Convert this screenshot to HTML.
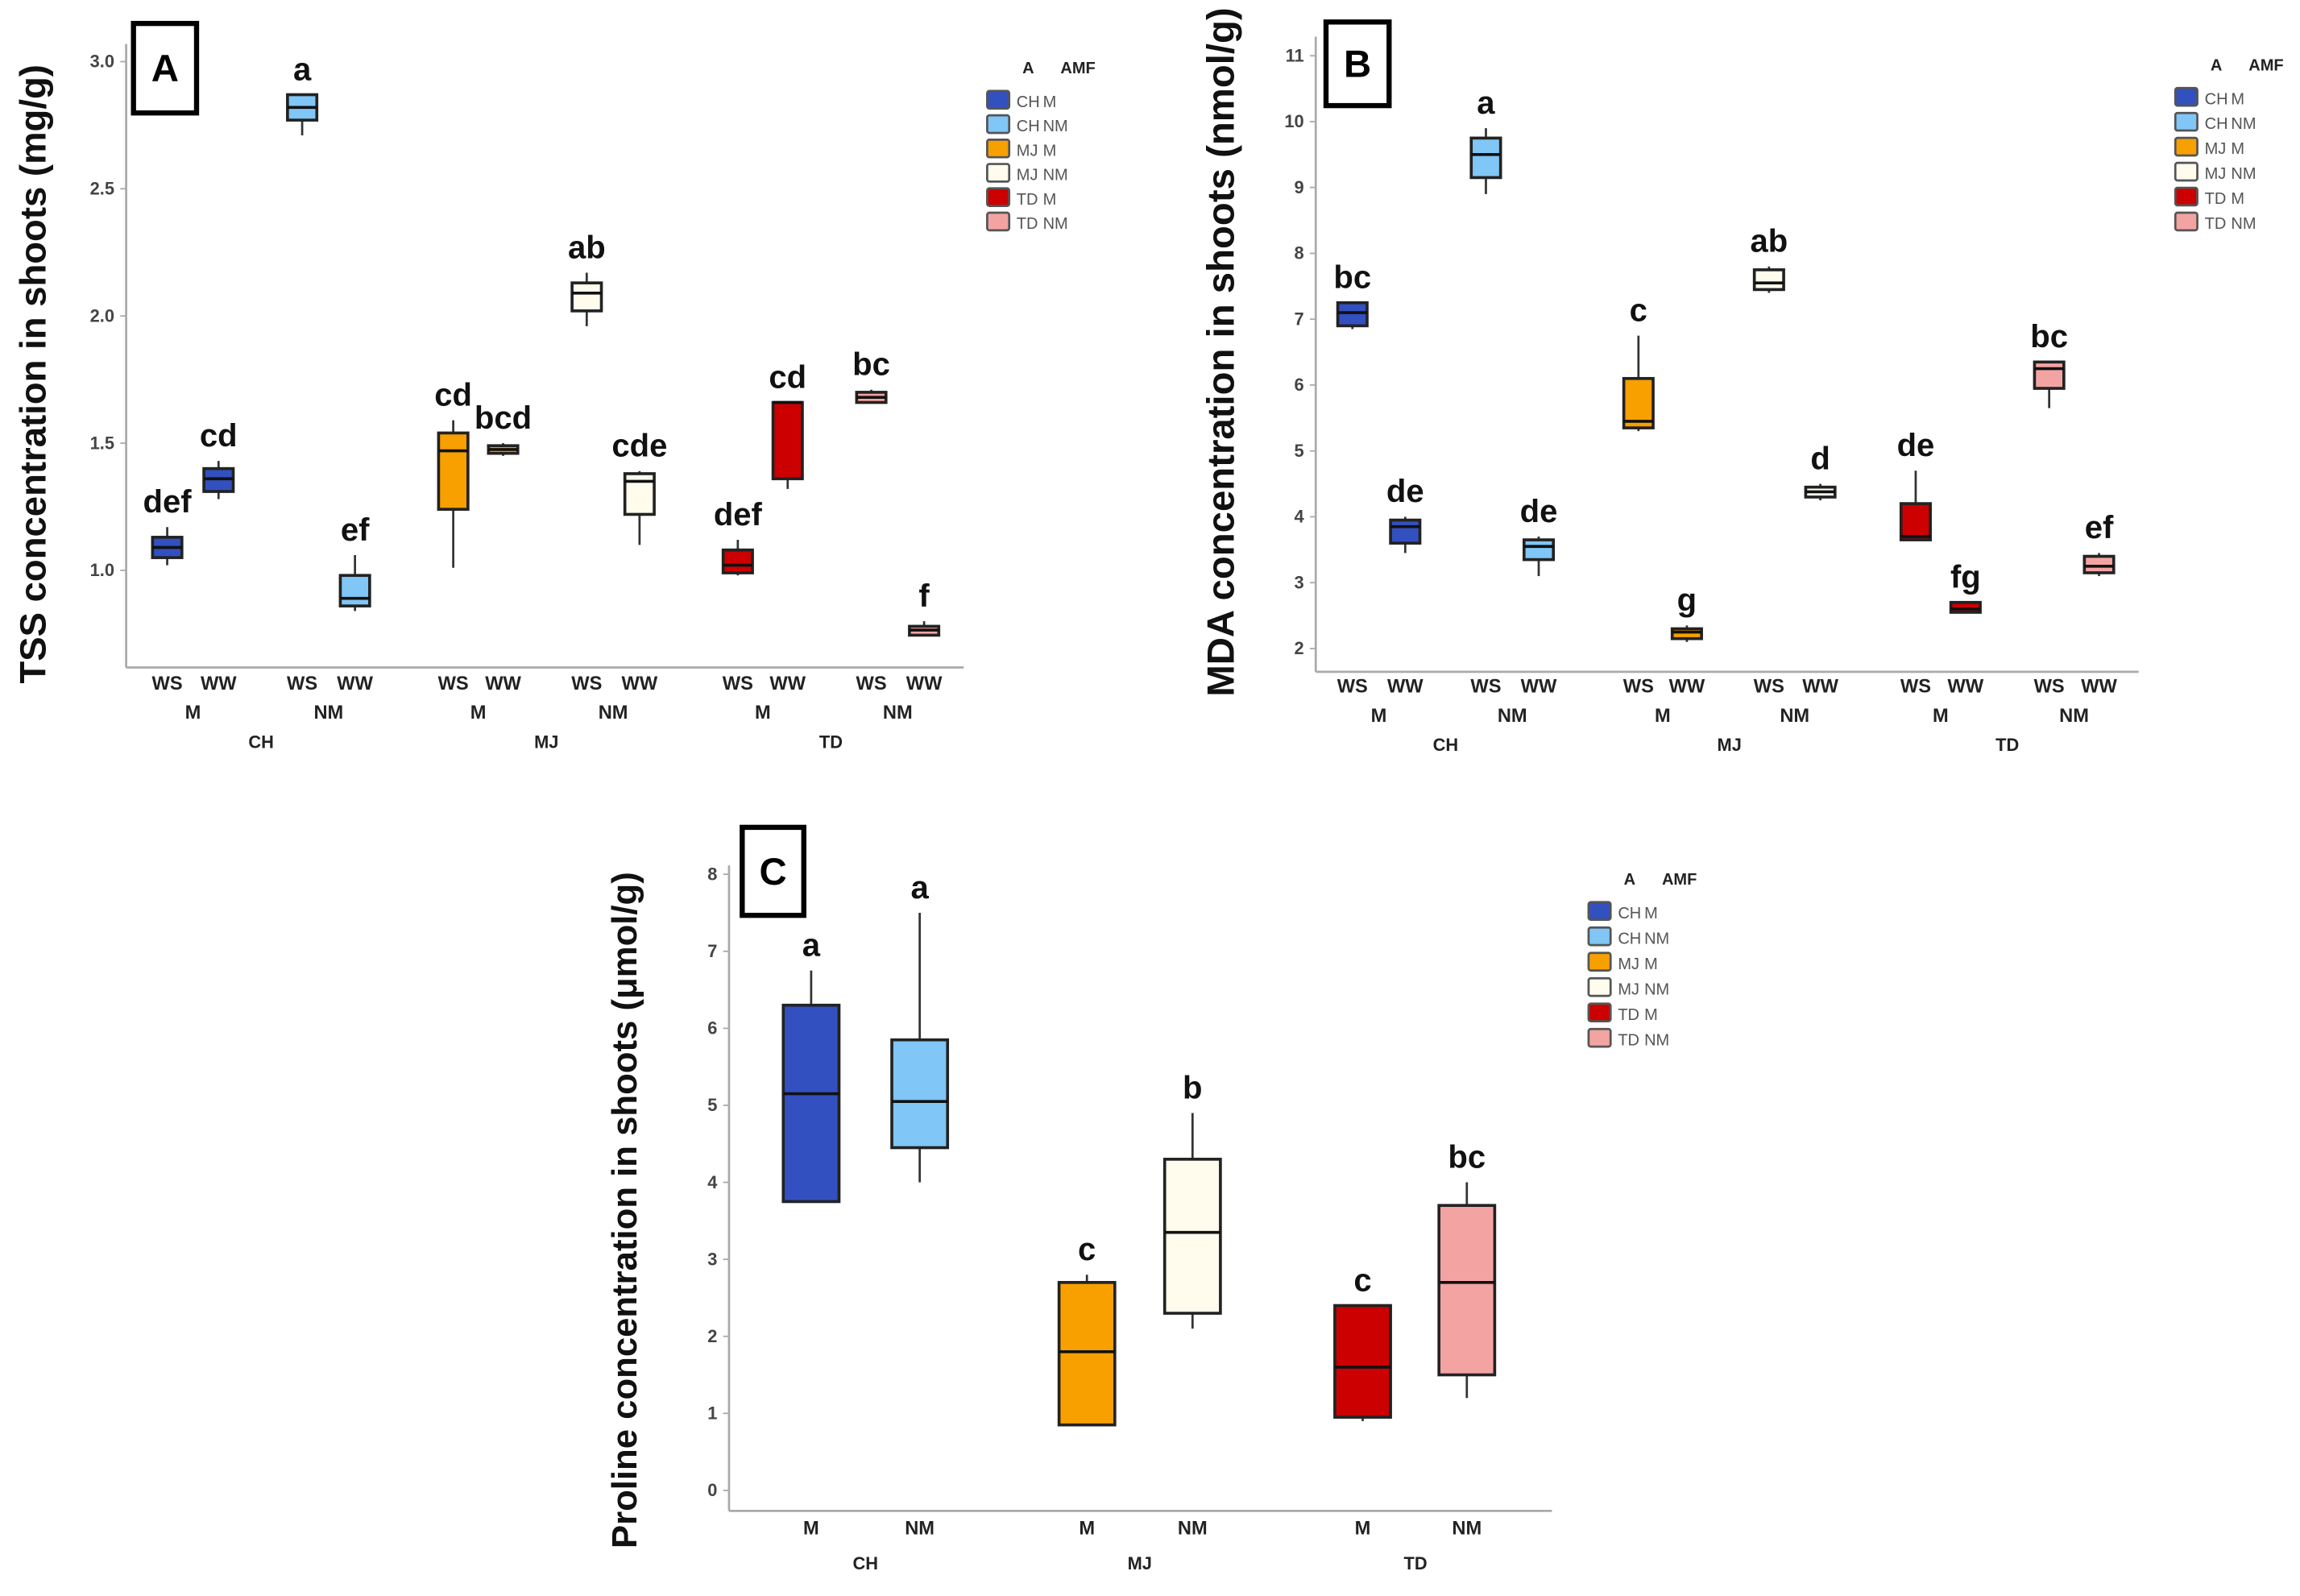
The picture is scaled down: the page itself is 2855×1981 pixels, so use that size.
<!DOCTYPE html>
<html><head><meta charset="utf-8">
<style>
html,body{margin:0;padding:0;background:#fff;}
svg{display:block;}
text{font-family:"Liberation Sans",sans-serif;}
</style></head>
<body>
<svg id="fig" xmlns="http://www.w3.org/2000/svg" width="2855" height="1981" viewBox="0 0 1568 1088" preserveAspectRatio="none">
<rect x="0" y="0" width="1568" height="1088" fill="#fff"/>
</svg>
<script>
// ---- Panel A data (TSS, mg/g) ----
const aGroups = ["CH M WS","CH M WW","CH NM WS","CH NM WW","MJ M WS","MJ M WW","MJ NM WS","MJ NM WW","TD M WS","TD M WW","TD NM WS","TD NM WW"];
const aLo  = [1.02,1.28,2.71,0.84,1.01,1.45,1.96,1.10,0.98,1.32,1.66,0.74];
const aQ1  = [1.05,1.31,2.77,0.86,1.24,1.46,2.02,1.22,0.99,1.36,1.66,0.745];
const aMed = [1.09,1.36,2.82,0.89,1.47,1.475,2.09,1.35,1.02,1.66,1.68,0.765];
const aQ3  = [1.13,1.40,2.87,0.98,1.54,1.49,2.13,1.38,1.08,1.66,1.70,0.78];
const aHi  = [1.17,1.43,2.87,1.06,1.59,1.50,2.17,1.39,1.12,1.66,1.71,0.80];
const aLetters = ["def","cd","a","ef","cd","bcd","ab","cde","def","cd","bc","f"];
const aTicks = [1.0,1.5,2.0,2.5,3.0];
const aTickLabels = ["1.0","1.5","2.0","2.5","3.0"];

// ---- Panel B data (MDA, nmol/g) ----
const bGroups = aGroups;
const bLo  = [6.85,3.45,8.9,3.1,5.3,2.1,7.4,4.25,3.65,2.55,5.65,3.1];
const bQ1  = [6.9,3.6,9.15,3.35,5.35,2.15,7.45,4.3,3.65,2.55,5.95,3.15];
const bMed = [7.1,3.85,9.5,3.55,5.45,2.25,7.55,4.38,3.7,2.6,6.25,3.25];
const bQ3  = [7.25,3.95,9.75,3.65,6.1,2.3,7.75,4.45,4.2,2.7,6.35,3.4];
const bHi  = [7.25,4.0,9.9,3.7,6.75,2.35,7.8,4.5,4.7,2.7,6.35,3.45];
const bLetters = ["bc","de","a","de","c","g","ab","d","de","fg","bc","ef"];
const bTicks = [2,3,4,5,6,7,8,9,10,11];
const bTickLabels = ["2","3","4","5","6","7","8","9","10","11"];

// ---- Panel C data (Proline, umol/g) ----
const cGroups = ["CH M","CH NM","MJ M","MJ NM","TD M","TD NM"];
const cLo  = [3.75,4.0,0.85,2.1,0.9,1.2];
const cQ1  = [3.75,4.45,0.85,2.3,0.95,1.5];
const cMed = [5.15,5.05,1.8,3.35,1.6,2.7];
const cQ3  = [6.3,5.85,2.7,4.3,2.4,3.7];
const cHi  = [6.75,7.5,2.8,4.9,2.4,4.0];
const cLetters = ["a","a","c","b","c","bc"];
const cTicks = [0,1,2,3,4,5,6,7,8];
const cTickLabels = ["0","1","2","3","4","5","6","7","8"];

const colors12 = ["#3350c0","#3350c0","#80c6f6","#80c6f6","#f7a000","#f7a000","#fffcee","#fffcee","#cc0000","#cc0000","#f4a3a3","#f4a3a3"];
const colors6 = ["#3350c0","#80c6f6","#f7a000","#fffcee","#cc0000","#f4a3a3"];
const legendLabels = [["CH","M"],["CH","NM"],["MJ","M"],["MJ","NM"],["TD","M"],["TD","NM"]];

const NS="http://www.w3.org/2000/svg";
const svg=document.getElementById('fig');
function mk(tag,attrs,parent,txt){const e=document.createElementNS(NS,tag);for(const k in attrs)e.setAttribute(k,attrs[k]);if(txt!==undefined)e.textContent=txt;(parent||svg).appendChild(e);return e;}

function panel(p){
  const g=mk('g',{});
  
  
  const y=v=>p.y0-(v-p.v0)*p.ppu;
  const ax=mk('line',{x1:p.axX,y1:p.axTop,x2:p.axX,y2:p.axBot,stroke:'#aaa','stroke-width':1.5},g);
  
  
  const bx=mk('line',{x1:p.axX,y1:p.axBot,x2:p.axRight,y2:p.axBot,stroke:'#aaa','stroke-width':1.5},g);
  
  
  p.ticks.forEach((t,i)=>{
    mk('line',{x1:p.axX-4,y1:y(t),x2:p.axX,y2:y(t),stroke:'#aaa'},g);
    const tl=mk('text',{x:p.axX-8,y:y(t)+4,'text-anchor':'end','font-size':12,'font-weight':'bold',fill:'#444'},g,p.tickLabels[i]);
    
    
  });
  const tt=mk('text',{x:0,y:0,transform:`translate(${p.titleX},${p.titleY}) rotate(-90)`,'text-anchor':'middle','font-size':p.titleSize,'font-weight':'bold',fill:'#111'},g,p.title);
  
  
  const lb=mk('rect',{x:p.lab[0],y:p.lab[1],width:p.lab[2],height:p.lab[3],fill:'#fff',stroke:'#000','stroke-width':3.5},g);
  
  
  const lt=mk('text',{x:p.lab[0]+p.lab[2]/2,y:p.lab[1]+p.lab[3]/2+9,'text-anchor':'middle','font-size':26,'font-weight':'bold'},g,p.labText);
  
  
  p.groups.forEach((name,i)=>{
    const cx=p.xs[i], w=p.bw;
    const bg=mk('g',{},g);
    
    
    mk('line',{x1:cx,y1:y(p.hi[i]),x2:cx,y2:y(p.lo[i]),stroke:'#333','stroke-width':1.5},bg);
    const top=y(p.q3[i]),bot=y(p.q1[i]);
    mk('rect',{x:cx-w/2,y:top,width:w,height:Math.max(bot-top,2),fill:p.colors[i],stroke:'#222','stroke-width':2},bg);
    mk('line',{x1:cx-w/2,y1:y(p.med[i]),x2:cx+w/2,y2:y(p.med[i]),stroke:'#111','stroke-width':2},bg);
    const lt2=mk('text',{x:cx,y:y(p.hi[i])-10,'text-anchor':'middle','font-size':22,'font-weight':'bold',fill:'#111'},g,p.letters[i]);
    
    
  });
  p.xlabels.forEach(l=>{
    const t=mk('text',{x:l[0],y:l[1],'text-anchor':'middle','font-size':l[3]||13,'font-weight':'bold',fill:'#222'},g,l[2]);
    
    
  });
  const lg=mk('g',{},g);
  
  
  mk('text',{x:p.leg[0]+24,y:p.leg[1],'font-size':11,'font-weight':'bold',fill:'#222'},lg,'A');
  mk('text',{x:p.leg[0]+50,y:p.leg[1],'font-size':11,'font-weight':'bold',fill:'#222'},lg,'AMF');
  legendLabels.forEach((ll,i)=>{
    const yy=p.leg[1]+20+i*p.leg[2];
    const e=mk('g',{},lg);
    
    
    mk('rect',{x:p.leg[0],y:yy-8,width:15,height:12,fill:colors6[i],stroke:'#555','stroke-width':1.5,rx:1.5},e);
    mk('text',{x:p.leg[0]+20,y:yy+3,'font-size':11,fill:'#555'},e,ll[0]);
    mk('text',{x:p.leg[0]+38,y:yy+3,'font-size':11,fill:'#555'},e,ll[1]);
  });
}

function xlabs12(xs,y1,y2,y3){
  const r=[];
  xs.forEach((x,i)=>r.push([x,y1,i%2?'WW':'WS']));
  for(let k=0;k<6;k++)r.push([(xs[2*k]+xs[2*k+1])/2,y2,k%2?'NM':'M']);
  for(let k=0;k<3;k++)r.push([(xs[4*k]+xs[4*k+3])/2,y3,['CH','MJ','TD'][k],12]);
  return r;
}

const aXs=[114,149,206,242,309,343,400,436,503,537,594,630];
panel({id:'panel-a',groups:aGroups,lo:aLo,q1:aQ1,med:aMed,q3:aQ3,hi:aHi,letters:aLetters,ticks:aTicks,tickLabels:aTickLabels,
  v0:3.0,y0:42,ppu:173.4,axX:86,axTop:30,axBot:455,axRight:657,xs:aXs,bw:20,colors:colors12,
  title:'TSS concentration in shoots (mg/g)',titleX:31,titleY:255,titleSize:25,lab:[91,16,43,61],labText:'A',
  xlabels:xlabs12(aXs,470,490,510),leg:[673,50,16.6]});

const bXs=[922,958,1013,1049,1117,1150,1206,1241,1306,1340,1397,1431];
panel({id:'panel-b',groups:bGroups,lo:bLo,q1:bQ1,med:bMed,q3:bQ3,hi:bHi,letters:bLetters,ticks:bTicks,tickLabels:bTickLabels,
  v0:11,y0:38,ppu:44.9,axX:897,axTop:25,axBot:458,axRight:1458,xs:bXs,bw:20,colors:colors12,
  title:'MDA concentration in shoots (nmol/g)',titleX:841,titleY:240,titleSize:26,lab:[904,15,43,57],labText:'B',
  xlabels:xlabs12(bXs,472,492,512),leg:[1483,48,17]});

const cXs=[553,627,741,813,929,1000];
panel({id:'panel-c',groups:cGroups,lo:cLo,q1:cQ1,med:cMed,q3:cQ3,hi:cHi,letters:cLetters,ticks:cTicks,tickLabels:cTickLabels,
  v0:0,y0:1016,ppu:52.5,axX:497,axTop:590,axBot:1030,axRight:1058,xs:cXs,bw:38,colors:colors6,
  title:'Proline concentration in shoots (\u03bcmol/g)',titleX:434,titleY:825,titleSize:24,lab:[506,564,42,60],labText:'C',
  xlabels:[[553,1046,'M'],[627,1046,'NM'],[741,1046,'M'],[813,1046,'NM'],[929,1046,'M'],[1000,1046,'NM'],[590,1070,'CH',12],[777,1070,'MJ',12],[965,1070,'TD',12]],
  leg:[1083,603,17.3]});
</script>
</body></html>
